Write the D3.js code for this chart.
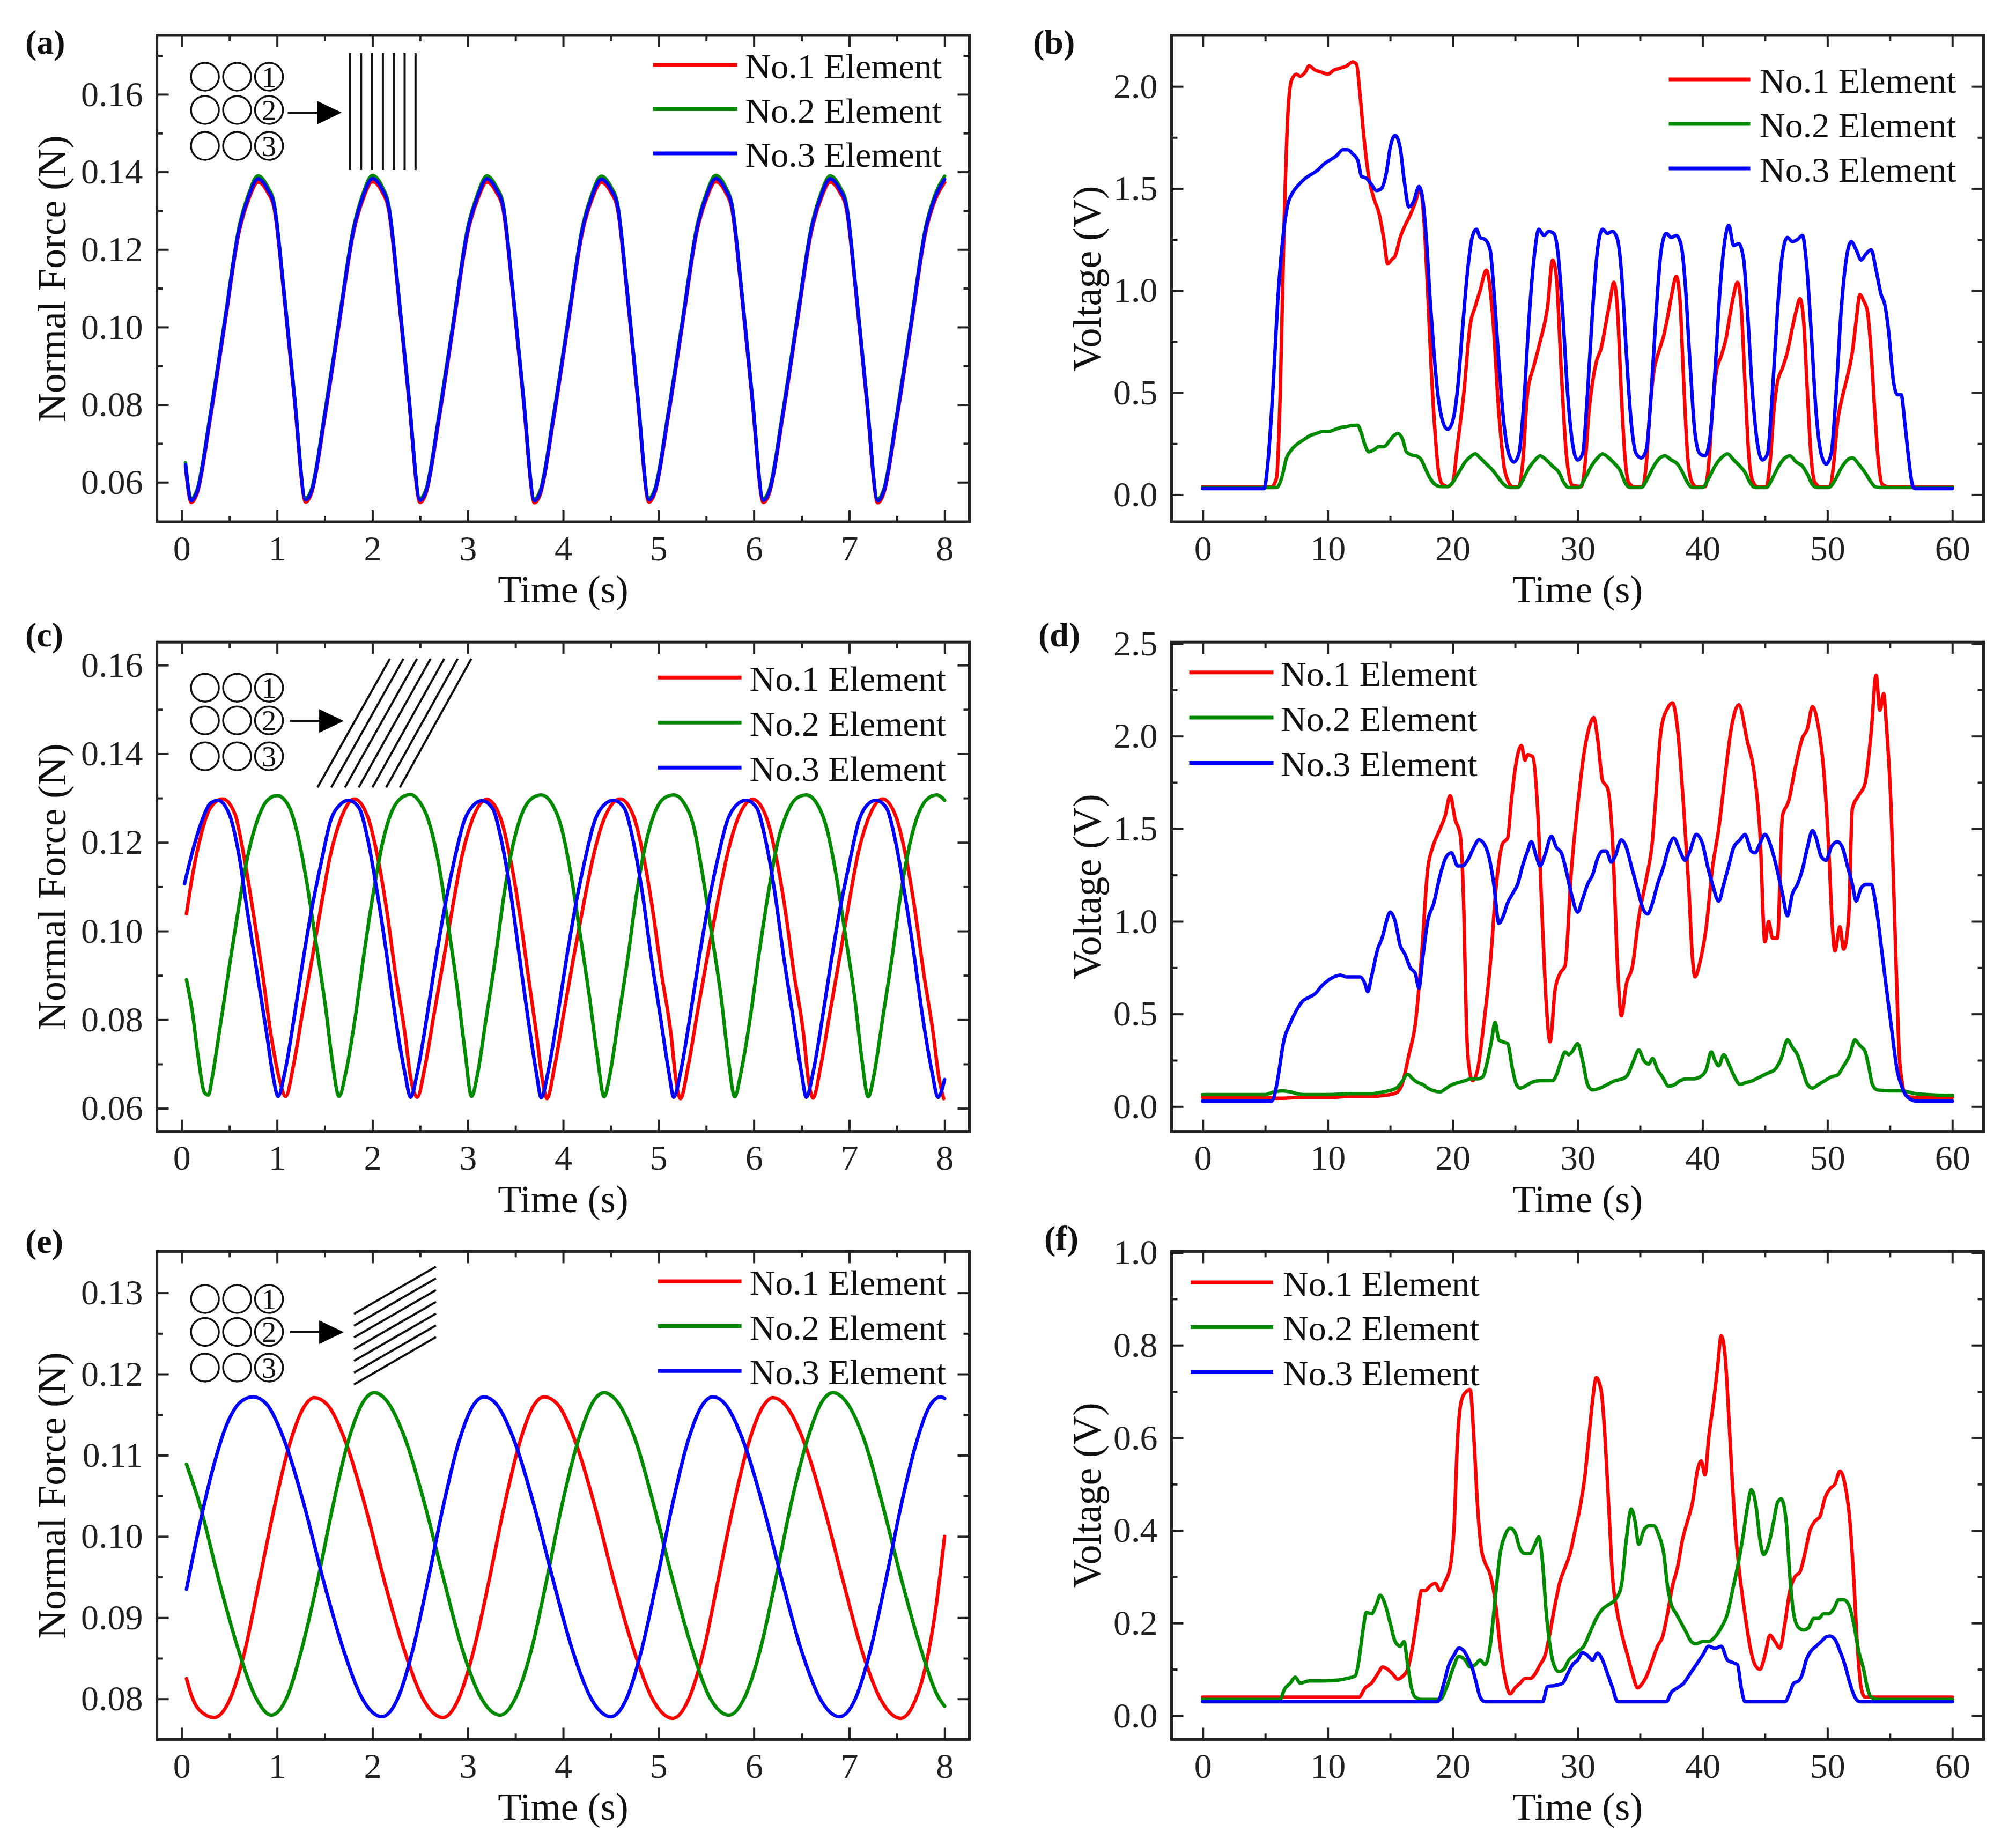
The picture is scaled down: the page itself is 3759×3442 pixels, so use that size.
<!DOCTYPE html>
<html>
<head>
<meta charset="utf-8">
<script src="https://cdn.jsdelivr.net/npm/d3@7"></script>
<style>
  body { margin: 0; background: #fff; }
  svg { display: block; }
</style>
</head>
<body>
<div id="chart"></div>
<script>
// ---- tick labels ----
const forceTimeTicks = [0, 1, 2, 3, 4, 5, 6, 7, 8];
const voltTimeTicks = [0, 10, 20, 30, 40, 50, 60];
const forceTicksAC = [0.06, 0.08, 0.10, 0.12, 0.14, 0.16];
const forceTicksE = [0.08, 0.09, 0.10, 0.11, 0.12, 0.13];
const voltTicksB = [0, 0.5, 1.0, 1.5, 2.0];
const voltTicksD = [0, 0.5, 1.0, 1.5, 2.0, 2.5];
const voltTicksF = [0, 0.2, 0.4, 0.6, 0.8, 1.0];

const seriesNames = ["No.1 Element", "No.2 Element", "No.3 Element"];
const colors = ["#ff0000", "#008a00", "#0000ff"];

// ---- (a) normal force, vertical lines ----
const timeA = [0.04,
  0.10, 0.16, 0.30, 0.45, 0.60, 0.70, 0.80, 0.90, 0.97, 1.07, 1.18,
  1.30, 1.36, 1.50, 1.65, 1.80, 1.90, 2.00, 2.10, 2.17, 2.27, 2.38,
  2.50, 2.56, 2.70, 2.85, 3.00, 3.10, 3.20, 3.30, 3.37, 3.47, 3.58,
  3.70, 3.76, 3.90, 4.05, 4.20, 4.30, 4.40, 4.50, 4.57, 4.67, 4.78,
  4.90, 4.96, 5.10, 5.25, 5.40, 5.50, 5.60, 5.70, 5.77, 5.87, 5.98,
  6.10, 6.16, 6.30, 6.45, 6.60, 6.70, 6.80, 6.90, 6.97, 7.07, 7.18,
  7.30, 7.36, 7.50, 7.65, 7.80, 7.90, 8.00];
const forceA1 = [0.0640,
  0.0548, 0.0570, 0.0764, 0.1004, 0.1243, 0.1328, 0.1374, 0.1348, 0.1305, 0.1089, 0.0819,
  0.0549, 0.0571, 0.0766, 0.1006, 0.1242, 0.1329, 0.1375, 0.1349, 0.1303, 0.1087, 0.0817,
  0.0548, 0.0570, 0.0765, 0.1005, 0.1244, 0.1327, 0.1374, 0.1347, 0.1304, 0.1090, 0.0820,
  0.0547, 0.0569, 0.0763, 0.1003, 0.1242, 0.1328, 0.1373, 0.1348, 0.1305, 0.1088, 0.0818,
  0.0549, 0.0571, 0.0765, 0.1004, 0.1243, 0.1329, 0.1375, 0.1349, 0.1304, 0.1089, 0.0819,
  0.0548, 0.0570, 0.0764, 0.1005, 0.1242, 0.1328, 0.1374, 0.1348, 0.1305, 0.1088, 0.0818,
  0.0547, 0.0570, 0.0765, 0.1004, 0.1243, 0.1327, 0.1373];
const forceA2 = [0.0650,
  0.0557, 0.0580, 0.0776, 0.1016, 0.1256, 0.1342, 0.1390, 0.1362, 0.1318, 0.1100, 0.0830,
  0.0559, 0.0581, 0.0778, 0.1018, 0.1254, 0.1343, 0.1391, 0.1363, 0.1316, 0.1098, 0.0828,
  0.0558, 0.0580, 0.0777, 0.1017, 0.1257, 0.1341, 0.1390, 0.1361, 0.1317, 0.1101, 0.0831,
  0.0557, 0.0579, 0.0775, 0.1015, 0.1255, 0.1342, 0.1389, 0.1362, 0.1318, 0.1099, 0.0829,
  0.0559, 0.0581, 0.0777, 0.1016, 0.1256, 0.1343, 0.1391, 0.1363, 0.1317, 0.1100, 0.0830,
  0.0558, 0.0580, 0.0776, 0.1017, 0.1255, 0.1342, 0.1390, 0.1362, 0.1318, 0.1099, 0.0829,
  0.0557, 0.0580, 0.0777, 0.1016, 0.1256, 0.1341, 0.1389];
const forceA3 = [0.0645,
  0.0553, 0.0575, 0.0770, 0.1010, 0.1250, 0.1335, 0.1382, 0.1355, 0.1312, 0.1095, 0.0825,
  0.0555, 0.0576, 0.0772, 0.1012, 0.1248, 0.1336, 0.1383, 0.1356, 0.1310, 0.1093, 0.0823,
  0.0554, 0.0575, 0.0771, 0.1011, 0.1251, 0.1334, 0.1382, 0.1354, 0.1311, 0.1096, 0.0826,
  0.0553, 0.0574, 0.0769, 0.1009, 0.1249, 0.1335, 0.1381, 0.1355, 0.1312, 0.1094, 0.0824,
  0.0555, 0.0576, 0.0771, 0.1010, 0.1250, 0.1336, 0.1383, 0.1356, 0.1311, 0.1095, 0.0825,
  0.0554, 0.0575, 0.0770, 0.1011, 0.1249, 0.1335, 0.1382, 0.1355, 0.1312, 0.1094, 0.0824,
  0.0553, 0.0575, 0.0771, 0.1010, 0.1250, 0.1334, 0.1381];

// ---- (c) normal force, steep slant ----
const forceC1 = [[0.05,0.1039],[0.11,0.1122],[0.21,0.1223],[0.30,0.1278],[0.43,0.1298],
  [0.56,0.1263],[0.65,0.1172],[0.75,0.1042],[0.85,0.0900],[0.94,0.0760],[1.02,0.0670],[1.09,0.0627],
  [1.17,0.0695],[1.27,0.0820],[1.37,0.0941],[1.47,0.1067],[1.56,0.1172],[1.66,0.1248],[1.81,0.1298],
  [1.95,0.1258],[2.05,0.1172],[2.15,0.1047],[2.24,0.0906],[2.34,0.0770],[2.40,0.0670],[2.47,0.0625],
  [2.55,0.0693],[2.65,0.0818],[2.75,0.0940],[2.85,0.1066],[2.94,0.1170],[3.04,0.1247],[3.20,0.1297],
  [3.34,0.1257],[3.44,0.1170],[3.54,0.1045],[3.63,0.0905],[3.72,0.0768],[3.78,0.0668],[3.83,0.0622],
  [3.91,0.0694],[4.01,0.0819],[4.11,0.0941],[4.22,0.1067],[4.32,0.1172],[4.42,0.1248],[4.60,0.1298],
  [4.74,0.1258],[4.84,0.1171],[4.94,0.1046],[5.03,0.0906],[5.13,0.0769],[5.18,0.0669],[5.23,0.0622],
  [5.31,0.0694],[5.41,0.0819],[5.51,0.0940],[5.62,0.1066],[5.72,0.1171],[5.82,0.1247],[5.99,0.1297],
  [6.13,0.1257],[6.23,0.1171],[6.33,0.1046],[6.42,0.0905],[6.52,0.0769],[6.57,0.0668],[6.62,0.0623],
  [6.70,0.0694],[6.80,0.0819],[6.90,0.0941],[7.00,0.1067],[7.09,0.1172],[7.19,0.1248],[7.35,0.1298],
  [7.49,0.1258],[7.59,0.1172],[7.69,0.1046],[7.78,0.0906],[7.88,0.0770],[7.94,0.0670],[7.99,0.0622]];
const forceC2 = [[0.05,0.0890],[0.11,0.0820],[0.17,0.0720],[0.24,0.0635],[0.28,0.0630],
  [0.32,0.0670],[0.40,0.0780],[0.50,0.0921],[0.60,0.1057],[0.69,0.1167],[0.79,0.1248],[0.89,0.1293],[1.00,0.1306],
  [1.12,0.1283],[1.21,0.1223],[1.31,0.1112],[1.41,0.0971],[1.51,0.0826],[1.58,0.0705],[1.65,0.0627],
  [1.72,0.0680],[1.82,0.0806],[1.91,0.0946],[2.01,0.1087],[2.11,0.1203],[2.20,0.1268],[2.30,0.1300],[2.40,0.1308],
  [2.49,0.1293],[2.59,0.1248],[2.69,0.1157],[2.79,0.1020],[2.89,0.0870],[2.97,0.0730],[3.04,0.0627],
  [3.10,0.0675],[3.19,0.0800],[3.29,0.0940],[3.38,0.1082],[3.48,0.1200],[3.57,0.1266],[3.67,0.1299],[3.77,0.1307],
  [3.88,0.1288],[3.98,0.1235],[4.08,0.1130],[4.18,0.0990],[4.28,0.0845],[4.36,0.0715],[4.43,0.0626],
  [4.49,0.0676],[4.58,0.0802],[4.68,0.0942],[4.77,0.1084],[4.87,0.1201],[4.96,0.1267],[5.06,0.1300],[5.16,0.1307],
  [5.27,0.1288],[5.37,0.1235],[5.46,0.1130],[5.56,0.0990],[5.66,0.0845],[5.73,0.0715],[5.80,0.0626],
  [5.86,0.0676],[5.96,0.0802],[6.05,0.0942],[6.15,0.1084],[6.25,0.1201],[6.35,0.1267],[6.45,0.1300],[6.55,0.1307],
  [6.66,0.1288],[6.76,0.1235],[6.86,0.1130],[6.96,0.0990],[7.06,0.0845],[7.13,0.0715],[7.20,0.0626],
  [7.26,0.0676],[7.35,0.0802],[7.45,0.0942],[7.54,0.1084],[7.64,0.1201],[7.73,0.1267],[7.83,0.1300],[7.92,0.1307],
  [8.00,0.1295]];
const forceC3 = [[0.03,0.1107],[0.11,0.1177],[0.21,0.1248],[0.30,0.1288],[0.38,0.1295],
  [0.50,0.1263],[0.60,0.1172],[0.69,0.1042],[0.79,0.0906],[0.89,0.0770],[0.96,0.0670],[1.01,0.0627],
  [1.08,0.0680],[1.18,0.0806],[1.27,0.0931],[1.37,0.1057],[1.47,0.1162],[1.56,0.1248],[1.66,0.1285],[1.75,0.1295],
  [1.86,0.1278],[1.95,0.1208],[2.05,0.1087],[2.15,0.0946],[2.24,0.0806],[2.34,0.0680],[2.40,0.0625],
  [2.47,0.0680],[2.57,0.0805],[2.66,0.0930],[2.76,0.1056],[2.86,0.1161],[2.96,0.1247],[3.06,0.1284],[3.15,0.1294],
  [3.26,0.1277],[3.35,0.1207],[3.45,0.1086],[3.54,0.0945],[3.63,0.0805],[3.72,0.0679],[3.77,0.0624],
  [3.84,0.0680],[3.94,0.0806],[4.03,0.0931],[4.13,0.1057],[4.23,0.1162],[4.33,0.1248],[4.43,0.1285],[4.53,0.1295],
  [4.64,0.1278],[4.73,0.1208],[4.83,0.1087],[4.92,0.0946],[5.02,0.0806],[5.11,0.0680],[5.16,0.0625],
  [5.23,0.0680],[5.33,0.0806],[5.42,0.0931],[5.52,0.1057],[5.62,0.1162],[5.72,0.1248],[5.82,0.1285],[5.92,0.1295],
  [6.03,0.1278],[6.12,0.1208],[6.22,0.1087],[6.31,0.0946],[6.41,0.0806],[6.50,0.0680],[6.55,0.0625],
  [6.62,0.0680],[6.72,0.0806],[6.81,0.0931],[6.91,0.1057],[7.01,0.1162],[7.10,0.1248],[7.19,0.1285],[7.28,0.1295],
  [7.39,0.1278],[7.48,0.1208],[7.58,0.1087],[7.68,0.0946],[7.77,0.0806],[7.87,0.0680],[7.93,0.0625],
  [8.00,0.0665]];

// ---- (e) normal force, shallow slant ----
const forceE1 = [[0.05,0.0825],[0.10,0.0805],[0.18,0.0787],[0.34,0.0777],
  [0.50,0.0798],[0.66,0.0858],[0.81,0.0943],[0.97,0.1035],[1.13,0.1113],[1.29,0.1161],[1.39,0.1171],
  [1.53,0.1162],[1.73,0.1113],[1.93,0.1035],[2.13,0.0943],[2.34,0.0858],[2.54,0.0798],[2.74,0.0777],
  [2.90,0.0799],[3.06,0.0859],[3.22,0.0944],[3.38,0.1036],[3.54,0.1114],[3.69,0.1161],[3.80,0.1172],
  [3.94,0.1163],[4.14,0.1113],[4.34,0.1034],[4.54,0.0942],[4.75,0.0857],[4.95,0.0797],[5.15,0.0776],
  [5.31,0.0798],[5.47,0.0858],[5.62,0.0943],[5.78,0.1035],[5.94,0.1113],[6.10,0.1161],[6.20,0.1171],
  [6.33,0.1162],[6.54,0.1112],[6.74,0.1034],[6.94,0.0943],[7.14,0.0857],[7.34,0.0797],[7.54,0.0776],
  [7.66,0.0790],[7.78,0.0830],[7.90,0.0905],[8.00,0.1000]];
const forceE2 = [[0.05,0.1089],[0.19,0.1039],[0.39,0.0946],[0.59,0.0862],[0.78,0.0801],[0.94,0.0780],
  [1.10,0.0801],[1.26,0.0862],[1.43,0.0948],[1.59,0.1040],[1.75,0.1119],[1.91,0.1167],[2.02,0.1177],
  [2.15,0.1167],[2.35,0.1118],[2.55,0.1039],[2.75,0.0946],[2.94,0.0862],[3.14,0.0801],[3.34,0.0780],
  [3.50,0.0801],[3.67,0.0862],[3.83,0.0948],[3.99,0.1040],[4.16,0.1119],[4.32,0.1167],[4.43,0.1177],
  [4.56,0.1167],[4.76,0.1118],[4.95,0.1039],[5.15,0.0946],[5.35,0.0862],[5.54,0.0801],[5.74,0.0780],
  [5.90,0.0801],[6.07,0.0862],[6.23,0.0948],[6.39,0.1040],[6.56,0.1119],[6.72,0.1167],[6.83,0.1177],
  [6.96,0.1167],[7.16,0.1118],[7.35,0.1039],[7.55,0.0946],[7.75,0.0862],[7.94,0.0801],[8.00,0.0791]];
const forceE3 = [[0.05,0.0935],[0.18,0.1010],[0.33,0.1085],[0.48,0.1140],[0.62,0.1166],[0.75,0.1172],
  [0.89,0.1163],[1.09,0.1114],[1.29,0.1036],[1.49,0.0944],[1.70,0.0859],[1.90,0.0799],[2.10,0.0778],
  [2.26,0.0799],[2.42,0.0859],[2.58,0.0944],[2.74,0.1036],[2.90,0.1114],[3.06,0.1162],[3.17,0.1172],
  [3.30,0.1163],[3.50,0.1114],[3.70,0.1036],[3.90,0.0944],[4.10,0.0859],[4.30,0.0799],[4.50,0.0778],
  [4.66,0.0799],[4.82,0.0859],[4.98,0.0944],[5.14,0.1036],[5.30,0.1114],[5.46,0.1162],[5.57,0.1172],
  [5.70,0.1163],[5.90,0.1114],[6.10,0.1036],[6.30,0.0944],[6.50,0.0859],[6.70,0.0799],[6.90,0.0778],
  [7.06,0.0799],[7.22,0.0859],[7.38,0.0944],[7.54,0.1036],[7.70,0.1114],[7.85,0.1162],[7.96,0.1172],[8.00,0.1170]];

// ---- (b) voltage ----
const voltB1 = [[0,0.04],[5.5,0.04],[5.9,0.08],[6.2,0.5],[6.5,1.3],[6.8,1.85],[7.1,2.03],[7.5,2.06],[7.8,2.05],
  [8.2,2.07],[8.5,2.1],[9.0,2.08],[9.5,2.07],[10.0,2.06],[10.5,2.08],[11.0,2.09],[11.5,2.1],[12.0,2.12],[12.3,2.11],
  [12.6,1.95],[12.9,1.75],[13.3,1.55],[13.7,1.45],[14.1,1.38],[14.5,1.25],[14.8,1.13],[15.1,1.15],[15.4,1.17],
  [15.8,1.26],[16.2,1.32],[16.6,1.37],[17.0,1.43],[17.4,1.5],[17.7,1.35],[18.0,1.0],[18.3,0.6],[18.6,0.3],
  [18.9,0.1],[19.2,0.05],[19.6,0.04],[20.0,0.06],[20.4,0.25],[20.9,0.5],[21.4,0.83],[21.8,0.92],[22.2,1.0],
  [22.7,1.1],[23.2,0.88],[23.7,0.4],[24.2,0.11],[24.8,0.04],[25.3,0.04],
  [25.6,0.15],[26.0,0.5],[26.5,0.63],[27.0,0.75],[27.6,0.92],[28.0,1.15],[28.3,1.07],[28.7,0.6],[29.1,0.2],
  [29.6,0.045],[30.3,0.04],
  [30.6,0.15],[30.9,0.4],[31.2,0.55],[31.5,0.65],[31.9,0.72],[32.3,0.85],[32.6,0.95],[32.9,1.04],[33.2,0.9],
  [33.5,0.5],[33.8,0.18],[34.1,0.06],[34.5,0.04],[35.2,0.04],
  [35.5,0.15],[35.8,0.42],[36.1,0.6],[36.5,0.7],[36.9,0.78],[37.3,0.9],[37.6,1.0],[37.9,1.07],[38.2,0.95],
  [38.5,0.55],[38.8,0.2],[39.1,0.07],[39.5,0.04],[40.2,0.04],
  [40.5,0.15],[40.8,0.42],[41.1,0.6],[41.5,0.68],[41.9,0.77],[42.2,0.88],[42.5,0.98],[42.8,1.04],[43.1,0.92],
  [43.4,0.55],[43.7,0.2],[44.0,0.07],[44.4,0.04],[45.1,0.04],
  [45.4,0.15],[45.7,0.4],[46.0,0.55],[46.4,0.62],[46.8,0.7],[47.2,0.82],[47.5,0.9],[47.8,0.96],[48.1,0.85],
  [48.4,0.5],[48.7,0.18],[49.0,0.06],[49.4,0.04],[50.2,0.04],
  [50.5,0.15],[50.8,0.35],[51.2,0.48],[51.6,0.58],[52.0,0.7],[52.3,0.85],[52.6,0.98],[52.9,0.95],[53.2,0.9],
  [53.5,0.7],[53.8,0.4],[54.1,0.15],[54.4,0.05],[54.8,0.04],[60,0.04]];
const voltB2 = [[0,0.035],[5.9,0.035],[6.3,0.08],[6.7,0.18],[7.1,0.22],[7.6,0.25],[8.1,0.27],[8.6,0.29],[9.1,0.3],
  [9.6,0.31],[10.1,0.31],[10.6,0.32],[11.1,0.33],[11.6,0.335],[12.1,0.34],[12.4,0.34],[12.7,0.3],[13.0,0.24],
  [13.3,0.21],[13.7,0.22],[14.1,0.235],[14.5,0.235],[14.9,0.26],[15.3,0.29],[15.6,0.3],[16.0,0.27],[16.3,0.21],
  [16.7,0.195],[17.1,0.19],[17.5,0.17],[17.8,0.13],[18.2,0.08],[18.6,0.05],[19.0,0.04],[19.6,0.04],[20.0,0.06],
  [20.5,0.11],[21.0,0.16],[21.5,0.19],[21.8,0.2],[22.2,0.18],[22.7,0.15],[23.2,0.12],[23.7,0.08],[24.1,0.05],
  [24.6,0.035],[25.2,0.035],[25.6,0.07],[26.1,0.13],[26.6,0.17],[27.0,0.19],[27.5,0.17],[28.0,0.14],[28.5,0.11],
  [28.9,0.06],[29.3,0.035],[30.1,0.035],
  [30.6,0.08],[31.1,0.14],[31.6,0.18],[32.0,0.2],[32.5,0.18],[33.0,0.15],[33.4,0.12],[33.8,0.06],[34.2,0.035],[35.1,0.035],
  [35.6,0.08],[36.1,0.14],[36.6,0.18],[37.0,0.19],[37.5,0.17],[38.0,0.15],[38.4,0.11],[38.8,0.06],[39.2,0.035],[40.0,0.035],
  [40.5,0.08],[41.0,0.14],[41.5,0.18],[42.0,0.2],[42.5,0.17],[43.0,0.14],[43.4,0.11],[43.8,0.06],[44.2,0.035],[45.1,0.035],
  [45.6,0.08],[46.1,0.14],[46.6,0.18],[47.0,0.19],[47.5,0.16],[48.0,0.14],[48.4,0.1],[48.8,0.05],[49.2,0.035],[50.1,0.035],
  [50.6,0.07],[51.1,0.13],[51.6,0.17],[52.0,0.18],[52.5,0.15],[53.0,0.11],[53.4,0.07],[53.8,0.04],[54.2,0.035],[60,0.035]];
const voltB3 = [[0,0.03],[4.9,0.03],[5.2,0.15],[5.6,0.5],[6.0,0.95],[6.4,1.25],[6.8,1.42],[7.2,1.48],[7.7,1.52],
  [8.2,1.55],[8.7,1.57],[9.2,1.59],[9.7,1.62],[10.2,1.64],[10.7,1.66],[11.2,1.69],[11.6,1.69],[12.0,1.67],
  [12.4,1.64],[12.7,1.56],[13.1,1.55],[13.5,1.52],[13.9,1.49],[14.3,1.5],[14.7,1.58],[15.0,1.7],[15.4,1.76],
  [15.8,1.7],[16.1,1.55],[16.5,1.41],[16.9,1.44],[17.3,1.51],[17.6,1.45],[17.9,1.25],[18.2,0.95],[18.5,0.7],
  [18.8,0.5],[19.2,0.36],[19.6,0.32],[20.0,0.36],[20.4,0.52],[20.8,0.82],[21.2,1.1],[21.6,1.27],[21.9,1.3],
  [22.2,1.26],[22.6,1.25],[23.0,1.2],[23.3,1.0],[23.7,0.65],[24.1,0.35],[24.5,0.2],[24.9,0.16],[25.3,0.2],
  [25.7,0.45],[26.1,0.85],[26.5,1.15],[26.9,1.3],[27.3,1.27],[27.7,1.29],[28.1,1.28],[28.4,1.2],[28.8,0.9],
  [29.2,0.5],[29.6,0.25],[30.0,0.17],[30.4,0.2],
  [30.8,0.5],[31.2,0.9],[31.6,1.2],[32.0,1.3],[32.4,1.28],[32.8,1.29],[33.2,1.25],[33.5,1.1],[33.9,0.7],
  [34.3,0.35],[34.7,0.2],[35.1,0.18],[35.5,0.22],
  [35.9,0.5],[36.3,0.9],[36.7,1.2],[37.1,1.28],[37.5,1.26],[37.9,1.27],[38.3,1.22],[38.6,1.05],[39.0,0.65],
  [39.4,0.3],[39.8,0.2],[40.2,0.19],[40.6,0.28],
  [41.0,0.6],[41.4,1.0],[41.8,1.25],[42.1,1.32],[42.5,1.22],[42.9,1.23],[43.3,1.15],[43.6,0.9],[44.0,0.5],
  [44.4,0.25],[44.8,0.17],[45.2,0.2],
  [45.6,0.5],[46.0,0.9],[46.4,1.18],[46.8,1.26],[47.2,1.24],[47.6,1.25],[48.0,1.27],[48.3,1.15],[48.7,0.8],
  [49.1,0.4],[49.5,0.2],[49.9,0.15],[50.3,0.2],
  [50.7,0.5],[51.1,0.9],[51.5,1.15],[51.9,1.24],[52.3,1.2],[52.7,1.15],[53.1,1.18],[53.5,1.2],[53.9,1.1],
  [54.3,0.98],[54.6,0.93],[54.9,0.8],[55.3,0.55],[55.6,0.49],[55.9,0.49],[56.2,0.35],[56.5,0.18],[56.8,0.05],
  [57.0,0.03],[60,0.03]];

// ---- (d) voltage ----
const voltD1 = [[0,0.05],[5,0.05],[6,0.045],[8,0.05],[10,0.05],[12,0.055],[13.5,0.055],[14.5,0.06],[15.5,0.075],
  [16.0,0.13],[16.5,0.28],[17.0,0.44],[17.5,0.8],[18.0,1.28],[18.4,1.4],[19.0,1.5],[19.4,1.57],[19.8,1.68],
  [20.2,1.55],[20.6,1.47],[20.9,1.05],[21.1,0.45],[21.3,0.22],[21.6,0.14],[22.0,0.2],[22.5,0.45],[23.0,0.76],
  [23.5,1.2],[24.0,1.42],[24.4,1.45],[24.7,1.65],[25.0,1.82],[25.5,1.95],[25.8,1.87],[26.0,1.9],[26.4,1.89],
  [26.8,1.61],[27.2,0.97],[27.5,0.55],[27.8,0.35],[28.2,0.63],[28.6,0.72],[29.0,0.76],[29.5,1.27],[30.1,1.68],
  [30.5,1.9],[30.9,2.04],[31.3,2.1],[31.6,1.99],[32.0,1.76],[32.4,1.72],[32.8,1.44],[33.2,0.76],[33.5,0.49],
  [33.9,0.66],[34.4,0.76],[34.9,1.02],[35.5,1.23],[36.0,1.44],[36.2,1.61],[36.7,2.04],[37.2,2.15],[37.6,2.18],
  [38.0,2.04],[38.5,1.61],[38.9,1.19],[39.2,0.8],[39.4,0.7],[39.8,0.78],[40.3,0.97],[40.8,1.29],[41.3,1.5],
  [41.8,1.78],[42.3,2.04],[42.9,2.17],[43.6,1.97],[44.1,1.82],[44.6,1.48],[45.0,0.89],[45.3,1.0],[45.6,0.91],
  [46.0,0.91],[46.4,1.57],[46.9,1.65],[47.4,1.82],[48.0,1.99],[48.4,2.04],[48.8,2.16],[49.3,2.04],[49.7,1.82],
  [50.1,1.4],[50.4,0.97],[50.6,0.84],[51.0,0.97],[51.3,0.85],[51.7,1.02],[52.0,1.61],[52.5,1.68],[53.0,1.74],
  [53.5,2.02],[53.9,2.33],[54.2,2.14],[54.5,2.23],[54.7,2.08],[55.1,1.61],[55.5,0.76],[55.8,0.23],[56.3,0.06],
  [56.8,0.05],[60,0.05]];
const voltD2 = [[0,0.065],[5.0,0.065],[5.5,0.075],[6.3,0.085],[7.0,0.08],[7.5,0.07],[8.0,0.065],[10.0,0.065],
  [12.0,0.07],[13.5,0.07],[14.5,0.08],[15.5,0.1],[16.0,0.14],[16.4,0.175],[16.8,0.15],[17.2,0.13],[17.6,0.12],
  [18.0,0.1],[18.5,0.085],[19.0,0.08],[19.5,0.1],[20.0,0.12],[20.5,0.13],[21.0,0.14],[21.5,0.15],[22.0,0.15],
  [22.4,0.16],[22.8,0.25],[23.1,0.35],[23.4,0.455],[23.7,0.36],[24.0,0.35],[24.4,0.34],[24.8,0.2],[25.1,0.12],
  [25.4,0.1],[25.8,0.11],[26.3,0.13],[27.0,0.14],[28.0,0.14],[28.3,0.17],[28.7,0.25],[29.0,0.295],[29.3,0.28],
  [29.6,0.3],[30.0,0.34],[30.4,0.25],[30.8,0.12],[31.2,0.09],[31.8,0.1],[32.4,0.12],[33.0,0.14],[33.6,0.15],
  [34.0,0.17],[34.5,0.25],[34.9,0.305],[35.3,0.25],[35.7,0.23],[36.0,0.26],[36.4,0.2],[36.8,0.16],[37.3,0.11],
  [37.8,0.12],[38.2,0.14],[38.8,0.15],[39.3,0.15],[39.8,0.16],[40.3,0.2],[40.7,0.295],[41.0,0.25],[41.3,0.22],
  [41.7,0.28],[42.1,0.23],[42.5,0.17],[43.0,0.12],[43.5,0.13],[44.0,0.14],[44.6,0.16],[45.2,0.18],[45.8,0.2],
  [46.3,0.26],[46.8,0.36],[47.2,0.32],[47.6,0.28],[48.0,0.2],[48.4,0.12],[48.8,0.1],[49.3,0.12],[49.8,0.14],
  [50.3,0.16],[50.8,0.17],[51.3,0.22],[51.8,0.28],[52.2,0.36],[52.6,0.33],[53.0,0.3],[53.3,0.22],[53.6,0.12],
  [54.0,0.09],[55.0,0.085],[56.0,0.085],[57.0,0.07],[58.0,0.065],[60.0,0.06]];
const voltD3 = [[0,0.03],[5.5,0.03],[5.7,0.05],[6.0,0.15],[6.5,0.36],[7.0,0.45],[7.5,0.52],[8.0,0.57],[8.5,0.59],
  [9.0,0.61],[9.5,0.65],[10.0,0.68],[10.5,0.7],[11.0,0.71],[11.5,0.7],[12.0,0.7],[12.6,0.7],[13.0,0.66],[13.2,0.62],
  [13.5,0.7],[14.0,0.85],[14.4,0.92],[14.7,1.0],[15.0,1.05],[15.4,1.0],[15.8,0.87],[16.2,0.82],[16.6,0.75],
  [17.0,0.72],[17.3,0.64],[17.6,0.8],[18.0,1.0],[18.5,1.1],[19.0,1.25],[19.5,1.35],[19.9,1.37],[20.4,1.3],
  [20.8,1.3],[21.2,1.33],[21.7,1.4],[22.1,1.44],[22.5,1.42],[22.9,1.35],[23.3,1.2],[23.7,0.99],[24.0,1.02],
  [24.4,1.1],[24.8,1.15],[25.2,1.2],[25.6,1.3],[26.0,1.38],[26.3,1.43],[26.7,1.35],[27.0,1.3],[27.4,1.36],
  [27.9,1.46],[28.3,1.4],[28.7,1.37],[29.0,1.3],[29.5,1.15],[30.0,1.05],[30.4,1.12],[30.8,1.2],[31.2,1.25],
  [31.6,1.34],[32.0,1.38],[32.3,1.38],[32.7,1.32],[33.0,1.35],[33.5,1.44],[33.9,1.4],[34.3,1.3],[34.7,1.2],
  [35.3,1.06],[35.6,1.04],[36.0,1.1],[36.4,1.2],[36.9,1.3],[37.3,1.4],[37.7,1.45],[38.2,1.38],[38.6,1.33],
  [39.0,1.38],[39.5,1.47],[40.0,1.42],[40.4,1.3],[40.8,1.2],[41.3,1.11],[41.7,1.2],[42.1,1.3],[42.5,1.4],
  [43.0,1.44],[43.4,1.47],[43.9,1.38],[44.2,1.37],[44.6,1.42],[45.0,1.47],[45.5,1.4],[45.9,1.3],[46.4,1.15],
  [46.8,1.03],[47.2,1.15],[47.6,1.2],[48.0,1.28],[48.4,1.4],[48.8,1.49],[49.1,1.45],[49.5,1.35],[49.9,1.33],
  [50.3,1.4],[50.8,1.43],[51.2,1.4],[51.6,1.3],[52.0,1.2],[52.3,1.11],[52.7,1.18],[53.1,1.2],[53.5,1.2],
  [53.9,1.08],[54.3,0.87],[54.7,0.65],[55.1,0.44],[55.6,0.19],[56.0,0.1],[56.3,0.06],[57.1,0.03],[60,0.03]];

// ---- (f) voltage ----
const voltF1 = [[0,0.04],[12.5,0.04],[13.0,0.06],[13.5,0.07],[14.0,0.09],[14.4,0.105],[14.8,0.1],[15.2,0.09],
  [15.6,0.079],[16.0,0.085],[16.4,0.1],[16.8,0.15],[17.2,0.22],[17.5,0.27],[17.8,0.27],[18.2,0.28],[18.6,0.286],
  [19.0,0.27],[19.4,0.29],[19.8,0.32],[20.1,0.4],[20.4,0.6],[20.7,0.68],[21.1,0.7],[21.4,0.704],[21.7,0.6],
  [22.0,0.45],[22.3,0.36],[22.6,0.33],[23.0,0.305],[23.4,0.25],[23.8,0.15],[24.2,0.08],[24.6,0.047],[25.0,0.06],
  [25.4,0.07],[25.8,0.08],[26.2,0.08],[26.6,0.09],[27.0,0.11],[27.4,0.13],[27.8,0.18],[28.2,0.24],[28.6,0.29],
  [29.0,0.32],[29.4,0.35],[29.8,0.4],[30.2,0.45],[30.6,0.52],[30.9,0.6],[31.2,0.68],[31.5,0.73],[31.9,0.7],
  [32.2,0.6],[32.5,0.45],[32.8,0.3],[33.2,0.22],[33.6,0.17],[34.0,0.13],[34.4,0.09],[34.8,0.06],[35.2,0.07],
  [35.6,0.09],[36.0,0.12],[36.4,0.15],[36.8,0.17],[37.2,0.22],[37.6,0.28],[38.0,0.32],[38.4,0.38],[38.8,0.42],
  [39.2,0.46],[39.6,0.53],[39.9,0.55],[40.2,0.52],[40.5,0.6],[40.9,0.68],[41.2,0.75],[41.5,0.82],[41.8,0.78],
  [42.1,0.65],[42.4,0.5],[42.7,0.38],[43.0,0.3],[43.4,0.22],[43.8,0.15],[44.2,0.11],[44.6,0.1],[45.0,0.13],
  [45.4,0.174],[45.8,0.16],[46.2,0.146],[46.6,0.2],[47.0,0.27],[47.4,0.3],[47.8,0.31],[48.2,0.35],[48.6,0.4],
  [49.0,0.42],[49.4,0.43],[49.8,0.47],[50.2,0.49],[50.6,0.5],[51.0,0.528],[51.4,0.5],[51.8,0.42],[52.1,0.3],
  [52.4,0.15],[52.7,0.06],[53.0,0.04],[60,0.04]];
const voltF2 = [[0,0.035],[6.2,0.035],[6.5,0.055],[7.0,0.07],[7.4,0.083],[7.8,0.07],[8.5,0.075],[9.5,0.075],
  [10.5,0.076],[11.5,0.08],[12.2,0.086],[12.5,0.12],[12.8,0.18],[13.1,0.223],[13.5,0.22],[13.9,0.24],[14.2,0.26],
  [14.6,0.24],[15.0,0.2],[15.4,0.16],[15.8,0.15],[16.1,0.16],[16.4,0.11],[16.7,0.06],[17.0,0.04],[17.5,0.035],
  [19.0,0.035],[19.5,0.06],[20.0,0.1],[20.5,0.128],[21.0,0.12],[21.4,0.105],[21.8,0.11],[22.2,0.12],[22.6,0.11],
  [23.0,0.15],[23.4,0.25],[23.8,0.35],[24.2,0.39],[24.6,0.405],[25.0,0.395],[25.4,0.36],[25.8,0.35],[26.2,0.35],
  [26.6,0.37],[26.9,0.386],[27.2,0.33],[27.5,0.22],[27.8,0.15],[28.1,0.11],[28.5,0.095],[28.9,0.1],[29.3,0.12],
  [29.7,0.13],[30.1,0.14],[30.5,0.15],[31.0,0.18],[31.5,0.21],[32.0,0.23],[32.5,0.24],[33.0,0.25],[33.5,0.28],
  [33.9,0.38],[34.3,0.446],[34.6,0.42],[34.9,0.37],[35.3,0.4],[35.7,0.41],[36.1,0.41],[36.5,0.39],[36.9,0.35],
  [37.2,0.28],[37.5,0.24],[37.9,0.22],[38.3,0.2],[38.7,0.18],[39.1,0.16],[39.5,0.155],[40.0,0.16],[40.5,0.16],
  [41.0,0.17],[41.5,0.19],[42.0,0.22],[42.4,0.27],[42.8,0.32],[43.2,0.38],[43.6,0.45],[43.9,0.488],[44.3,0.45],
  [44.6,0.38],[44.9,0.348],[45.3,0.37],[45.7,0.42],[46.0,0.46],[46.3,0.468],[46.7,0.42],[47.0,0.3],[47.3,0.22],
  [47.7,0.19],[48.1,0.185],[48.5,0.19],[48.9,0.21],[49.3,0.21],[49.7,0.22],[50.1,0.22],[50.5,0.23],[50.9,0.25],
  [51.3,0.25],[51.7,0.24],[52.1,0.2],[52.5,0.14],[52.9,0.1],[53.2,0.06],[53.5,0.04],[54.0,0.035],[60,0.035]];
const voltF3 = [[0,0.03],[18.8,0.03],[19.3,0.07],[19.7,0.11],[20.1,0.13],[20.5,0.146],[20.9,0.14],[21.3,0.12],
  [21.6,0.1],[21.9,0.07],[22.2,0.04],[22.6,0.03],[27.2,0.03],[27.6,0.063],[28.2,0.065],[28.8,0.07],[29.2,0.09],
  [29.6,0.11],[30.0,0.12],[30.4,0.136],[30.8,0.13],[31.2,0.12],[31.6,0.135],[32.0,0.12],[32.4,0.09],[32.8,0.06],
  [33.2,0.03],[37.1,0.03],[37.5,0.05],[38.0,0.06],[38.5,0.07],[39.0,0.09],[39.5,0.11],[40.0,0.13],[40.5,0.15],
  [41.0,0.145],[41.5,0.15],[42.0,0.12],[42.4,0.115],[42.8,0.11],[43.1,0.06],[43.4,0.03],[46.6,0.03],[47.0,0.05],
  [47.3,0.07],[47.7,0.075],[48.0,0.09],[48.3,0.12],[48.7,0.14],[49.1,0.15],[49.5,0.16],[49.9,0.17],[50.2,0.172],
  [50.6,0.165],[51.0,0.14],[51.4,0.11],[51.8,0.07],[52.2,0.04],[52.6,0.03],[60,0.03]];

// ---- layout ----
const W = 3759, H = 3442;
const serif = "'Liberation Serif', 'Times New Roman', serif";
const ink = "#222";

const panels = [
  { key: "a", label: "(a)", labelPos: [47, 100], box: [292.6, 66, 1807.5, 973],
    xDomain: [-0.26, 8.26], yDomain: [0.0498, 0.1752], xTicks: forceTimeTicks, yTicks: forceTicksAC,
    yFormat: ".2f", yTitle: "Normal Force (N)", titleGap: 171,
    series: [d3.zip(timeA, forceA1), d3.zip(timeA, forceA2), d3.zip(timeA, forceA3)],
    legend: { x0: 925, x1: 1082, tx: 1097, y: 55, step: 82.5 },
    inset: { kind: "vertical", rows: [77, 139, 206], arrowY: 144 } },
  { key: "b", label: "(b)", labelPos: [1926, 100], box: [2184.5, 66, 3698.5, 973],
    xDomain: [-2.5, 62.5], yDomain: [-0.133, 2.25], xTicks: voltTimeTicks, yTicks: voltTicksB,
    yFormat: ".1f", yTitle: "Voltage (V)", titleGap: 133,
    series: [voltB1, voltB2, voltB3],
    legend: { x0: 927, x1: 1079, tx: 1096.5, y: 82, step: 83 } },
  { key: "c", label: "(c)", labelPos: [47, 1205], box: [292.6, 1197.2, 1807.5, 2109.6],
    xDomain: [-0.26, 8.26], yDomain: [0.0548, 0.1652], xTicks: forceTimeTicks, yTicks: forceTicksAC,
    yFormat: ".2f", yTitle: "Normal Force (N)", titleGap: 171,
    series: [forceC1, forceC2, forceC3],
    legend: { x0: 934, x1: 1090, tx: 1105, y: 66, step: 84 },
    inset: { kind: "steep", rows: [85, 146, 213], arrowY: 147 } },
  { key: "d", label: "(d)", labelPos: [1936, 1205], box: [2184.5, 1197.2, 3698.5, 2109.6],
    xDomain: [-2.5, 62.5], yDomain: [-0.134, 2.508], xTicks: voltTimeTicks, yTicks: voltTicksD,
    yFormat: ".1f", yTitle: "Voltage (V)", titleGap: 133,
    series: [voltD1, voltD2, voltD3],
    legend: { x0: 33, x1: 190, tx: 203.5, y: 56.5, step: 84.4 } },
  { key: "e", label: "(e)", labelPos: [47, 2336], box: [292.6, 2333.4, 1807.5, 3243.4],
    xDomain: [-0.26, 8.26], yDomain: [0.075, 0.1351], xTicks: forceTimeTicks, yTicks: forceTicksE,
    yFormat: ".2f", yTitle: "Normal Force (N)", titleGap: 171,
    series: [forceE1, forceE2, forceE3],
    legend: { x0: 934, x1: 1090, tx: 1105, y: 55.5, step: 83.7 },
    inset: { kind: "shallow", rows: [88.6, 150, 216.6], arrowY: 150.6 } },
  { key: "f", label: "(f)", labelPos: [1947, 2330], box: [2184.5, 2333.4, 3698.5, 3243.4],
    xDomain: [-2.5, 62.5], yDomain: [-0.0515, 1.0025], xTicks: voltTimeTicks, yTicks: voltTicksF,
    yFormat: ".1f", yTitle: "Voltage (V)", titleGap: 133,
    series: [voltF1, voltF2, voltF3],
    legend: { x0: 35.5, x1: 189.5, tx: 207.5, y: 57.6, step: 83.5 } },
];

const svg = d3.select("#chart").append("svg")
  .attr("width", W).attr("height", H)
  .attr("viewBox", `0 0 ${W} ${H}`);
svg.append("rect").attr("width", W).attr("height", H).attr("fill", "#fff");

function minorTicks(major, domain) {
  const step = major[1] - major[0];
  const span = domain[1] - domain[0];
  const out = [];
  for (let v = major[0] - step / 2; v < domain[1]; v += step) {
    const r = +v.toFixed(6);
    if (r > domain[0] + span * 0.012 && r < domain[1] - span * 0.012) out.push(r);
  }
  return out;
}

function styleAxis(sel, width) {
  sel.attr("color", ink).attr("font-family", serif).attr("font-size", 66);
  sel.select(".domain").remove();
  sel.selectAll("line").attr("stroke-width", width);
}

function drawInset(g, inset) {
  const cols = [89.5, 149.5, 209];
  inset.rows.forEach((cy, r) => {
    cols.forEach((cx, c) => {
      g.append("circle").attr("cx", cx).attr("cy", cy).attr("r", 26)
        .attr("fill", "none").attr("stroke", "#111").attr("stroke-width", 3.5);
      if (c === 2) {
        g.append("text").attr("x", cx).attr("y", cy).attr("dy", "0.34em")
          .attr("text-anchor", "middle").attr("font-family", serif).attr("font-size", 55)
          .attr("fill", "#111").text(r + 1);
      }
    });
  });
  const ay = inset.arrowY;
  const x1 = inset.kind === "vertical" ? 244 : 248;
  const tip = inset.kind === "vertical" ? 344.5 : 348.5;
  g.append("line").attr("x1", x1).attr("x2", tip - 40).attr("y1", ay).attr("y2", ay)
    .attr("stroke", "#111").attr("stroke-width", 4);
  g.append("path").attr("d", `M${tip - 46},${ay - 22}L${tip},${ay}L${tip - 46},${ay + 22}Z`).attr("fill", "#000");

  const idx = d3.range(7);
  let segs;
  if (inset.kind === "vertical") {
    segs = idx.map(i => [360.4 + i * 20.3, 33, 360.4 + i * 20.3, 251]);
  } else if (inset.kind === "steep") {
    segs = idx.map(i => [299.4 + i * 25.6, 271, 434.4 + i * 25.3, 31]);
  } else {
    segs = idx.map(i => [367.4, 116.6 + i * 21.9, 520.4, 28.3 + i * 21.9]);
  }
  g.selectAll(null).data(segs).join("line")
    .attr("x1", d => d[0]).attr("y1", d => d[1]).attr("x2", d => d[2]).attr("y2", d => d[3])
    .attr("stroke", "#111").attr("stroke-width", 4);
}

function drawPanel(p) {
  const [x0, y0, x1, y1] = p.box;
  const x = d3.scaleLinear().domain(p.xDomain).range([x0, x1]);
  const y = d3.scaleLinear().domain(p.yDomain).range([y1, y0]);
  const g = svg.append("g");

  const clipId = "clip-" + p.key;
  svg.append("clipPath").attr("id", clipId).append("rect")
    .attr("x", x0).attr("y", y0).attr("width", x1 - x0).attr("height", y1 - y0);

  // data lines
  const line = d3.line().x(d => x(d[0])).y(d => y(d[1])).curve(d3.curveMonotoneX);
  g.append("g").attr("clip-path", `url(#${clipId})`)
    .selectAll("path").data(p.series).join("path")
    .attr("d", line).attr("fill", "none")
    .attr("stroke", (d, i) => colors[i]).attr("stroke-width", 6.5)
    .attr("stroke-linejoin", "round").attr("stroke-linecap", "round");

  // ticks on all four sides, pointing inward
  const xMinor = minorTicks(p.xTicks, p.xDomain);
  const yMinor = minorTicks(p.yTicks, p.yDomain);
  const none = () => "";
  const yFmt = d3.format(p.yFormat);

  g.append("g").attr("transform", `translate(0,${y1})`)
    .call(d3.axisBottom(x).tickValues(p.xTicks).tickSizeInner(-22).tickSizeOuter(0).tickPadding(25).tickFormat(d3.format("d")))
    .call(s => styleAxis(s, 4));
  g.append("g").attr("transform", `translate(0,${y1})`)
    .call(d3.axisBottom(x).tickValues(xMinor).tickSizeInner(-11).tickSizeOuter(0).tickFormat(none))
    .call(s => styleAxis(s, 4));
  g.append("g").attr("transform", `translate(0,${y0})`)
    .call(d3.axisTop(x).tickValues(p.xTicks).tickSizeInner(-22).tickSizeOuter(0).tickFormat(none))
    .call(s => styleAxis(s, 4));
  g.append("g").attr("transform", `translate(0,${y0})`)
    .call(d3.axisTop(x).tickValues(xMinor).tickSizeInner(-11).tickSizeOuter(0).tickFormat(none))
    .call(s => styleAxis(s, 4));
  g.append("g").attr("transform", `translate(${x0},0)`)
    .call(d3.axisLeft(y).tickValues(p.yTicks).tickSizeInner(-22).tickSizeOuter(0).tickPadding(26).tickFormat(yFmt))
    .call(s => styleAxis(s, 4));
  g.append("g").attr("transform", `translate(${x0},0)`)
    .call(d3.axisLeft(y).tickValues(yMinor).tickSizeInner(-11).tickSizeOuter(0).tickFormat(none))
    .call(s => styleAxis(s, 4));
  g.append("g").attr("transform", `translate(${x1},0)`)
    .call(d3.axisRight(y).tickValues(p.yTicks).tickSizeInner(-22).tickSizeOuter(0).tickFormat(none))
    .call(s => styleAxis(s, 4));
  g.append("g").attr("transform", `translate(${x1},0)`)
    .call(d3.axisRight(y).tickValues(yMinor).tickSizeInner(-11).tickSizeOuter(0).tickFormat(none))
    .call(s => styleAxis(s, 4));

  // frame
  g.append("rect").attr("x", x0).attr("y", y0).attr("width", x1 - x0).attr("height", y1 - y0)
    .attr("fill", "none").attr("stroke", ink).attr("stroke-width", 5);

  // axis titles
  g.append("text").attr("x", (x0 + x1) / 2).attr("y", y1 + 150)
    .attr("text-anchor", "middle").attr("font-family", serif).attr("font-size", 72)
    .attr("fill", "#111").text("Time (s)");
  g.append("text")
    .attr("transform", `translate(${x0 - p.titleGap},${(y0 + y1) / 2}) rotate(-90)`)
    .attr("text-anchor", "middle").attr("font-family", serif).attr("font-size", 74)
    .attr("fill", "#111").text(p.yTitle);

  // panel label
  g.append("text").attr("x", p.labelPos[0]).attr("y", p.labelPos[1])
    .attr("font-family", serif).attr("font-weight", "bold").attr("font-size", 64)
    .attr("fill", "#111").text(p.label);

  // legend
  const lg = g.append("g").attr("transform", `translate(${x0},${y0})`);
  seriesNames.forEach((name, i) => {
    const ly = p.legend.y + i * p.legend.step;
    lg.append("line").attr("x1", p.legend.x0).attr("x2", p.legend.x1).attr("y1", ly).attr("y2", ly)
      .attr("stroke", colors[i]).attr("stroke-width", 7);
    lg.append("text").attr("x", p.legend.tx).attr("y", ly + 25)
      .attr("font-family", serif).attr("font-size", 66).attr("fill", "#111").text(name);
  });

  // element / stripe sketch
  if (p.inset) {
    drawInset(g.append("g").attr("transform", `translate(${x0},${y0})`), p.inset);
  }
}

panels.forEach(drawPanel);
</script>
</body>
</html>
